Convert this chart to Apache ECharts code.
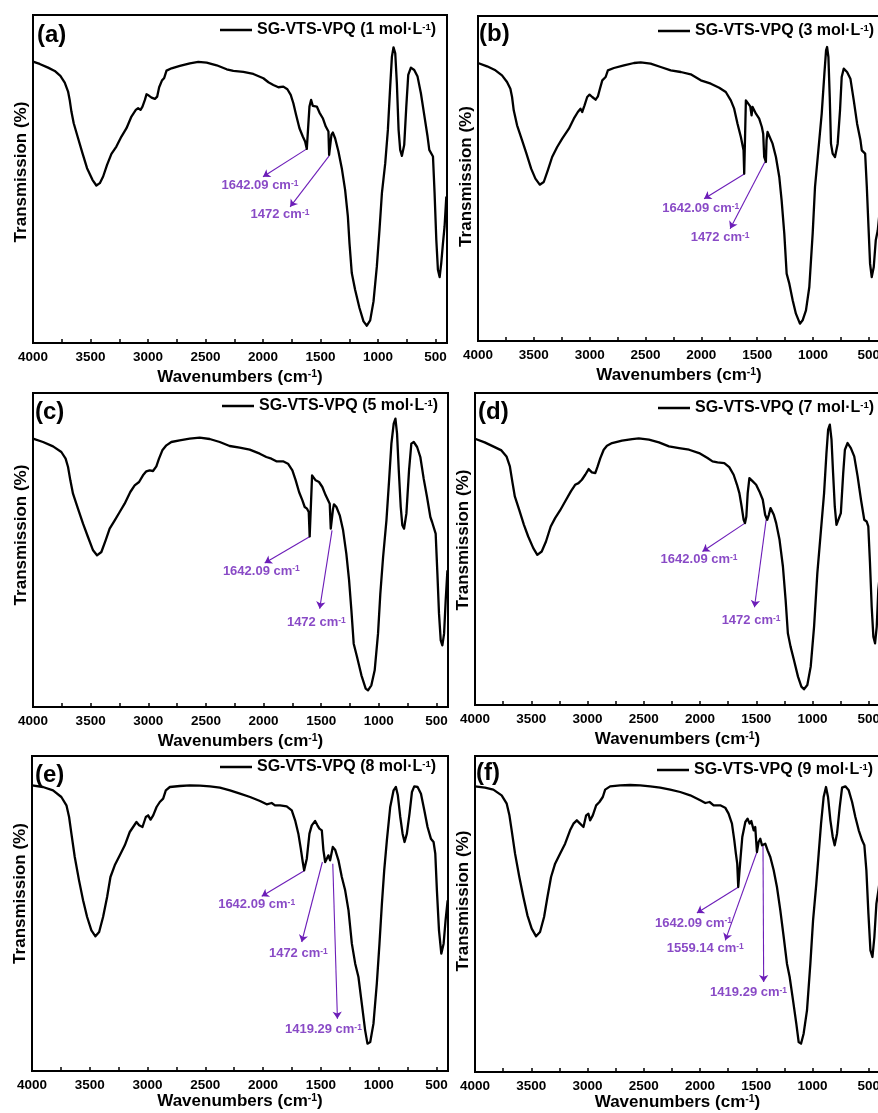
<!DOCTYPE html>
<html>
<head>
<meta charset="utf-8">
<title>FTIR spectra of SG-VTS-VPQ</title>
<script src="https://cdn.jsdelivr.net/npm/echarts@6/dist/echarts.min.js"></script>
<style>
  html, body { margin: 0; padding: 0; background: #fff; }
  #chart { width: 878px; height: 1113px; }
</style>
</head>
<body>
<div id="chart"></div>
<script>
// ---- data: wavenumber (cm-1) vs transmission, one array per concentration ----
const panelLetters = ['(a)', '(b)', '(c)', '(d)', '(e)', '(f)'];
const concentrations = [1, 3, 5, 7, 8, 9];
const majorTicks = [4000, 3500, 3000, 2500, 2000, 1500, 1000, 500];
const allTicks = [4000, 3750, 3500, 3250, 3000, 2750, 2500, 2250, 2000, 1750, 1500, 1250, 1000, 750, 500];
const wavenumberRange = [400, 4000];
const transmissionTop = [98.5, 97.5, 94.2, 93.5, 94.5, 94.8];

const spectrum1 = [[4000,84.5],[3942,83.8],[3869,82.7],[3811,81.7],[3762,80.2],[3724,78.2],[3695,75.5],[3681,73.0],[3666,69.5],[3646,66.0],[3608,61.5],[3570,57.0],[3530,52.5],[3483,49.0],[3449,47.3],[3419,48.0],[3390,50.0],[3356,53.5],[3318,56.8],[3275,59.0],[3231,62.0],[3187,64.5],[3144,68.0],[3106,70.0],[3086,70.5],[3065,70.0],[3048,71.0],[3027,73.0],[3013,74.7],[2993,74.3],[2969,73.7],[2940,73.3],[2920,74.0],[2903,76.8],[2879,78.8],[2859,79.6],[2839,81.8],[2795,82.5],[2723,83.2],[2636,84.0],[2563,84.4],[2490,84.2],[2403,83.4],[2316,82.2],[2258,81.7],[2171,81.4],[2084,80.8],[1997,79.5],[1953,78.3],[1910,77.5],[1866,76.8],[1823,77.0],[1788,76.2],[1759,74.5],[1736,72.0],[1712,68.5],[1683,64.5],[1654,62.0],[1634,60.5],[1619,58.3],[1608,58.5],[1596,71.0],[1582,73.0],[1567,71.2],[1550,71.5],[1532,71.0],[1509,69.2],[1480,67.5],[1454,65.0],[1431,63.5],[1425,56.5],[1413,56.5],[1405,62.5],[1393,63.2],[1373,61.5],[1344,57.5],[1315,52.5],[1286,46.0],[1262,38.0],[1248,30.0],[1228,21.0],[1199,16.0],[1161,10.5],[1126,6.5],[1097,5.2],[1068,6.8],[1039,12.5],[1010,23.0],[987,34.0],[966,45.0],[937,54.0],[914,64.0],[894,77.0],[879,86.0],[865,88.8],[850,87.0],[836,78.0],[821,64.0],[807,58.0],[792,56.2],[772,59.5],[754,71.0],[737,80.5],[714,82.7],[685,82.0],[656,80.0],[627,75.0],[598,68.5],[569,62.0],[554,58.0],[540,58.5],[522,56.0],[508,45.0],[493,31.0],[479,22.0],[464,19.8],[450,24.0],[435,30.0],[421,35.0],[406,44.0]];

const spectrum3 = [[4000,83.4],[3919,82.4],[3844,81.2],[3785,79.7],[3740,77.7],[3710,75.7],[3695,73.2],[3680,69.2],[3650,64.7],[3605,60.2],[3566,56.2],[3524,51.7],[3486,48.7],[3447,46.9],[3411,47.7],[3375,51.2],[3336,55.2],[3291,58.2],[3246,60.7],[3186,63.7],[3142,66.7],[3106,68.7],[3082,69.7],[3067,68.7],[3046,70.7],[3022,73.2],[3001,73.9],[2977,73.2],[2947,72.4],[2926,73.4],[2908,75.7],[2887,78.2],[2857,79.2],[2837,81.2],[2783,81.9],[2693,82.7],[2603,83.4],[2543,83.6],[2454,83.2],[2364,82.2],[2274,81.2],[2184,80.7],[2095,80.0],[2005,78.2],[1915,77.2],[1840,76.0],[1781,74.7],[1736,72.2],[1706,69.7],[1676,65.2],[1646,61.2],[1631,60.7],[1622,57.2],[1616,50.2],[1607,50.2],[1601,72.2],[1586,72.2],[1562,70.4],[1550,67.7],[1541,70.2],[1511,68.2],[1482,66.7],[1458,64.2],[1446,62.2],[1437,55.2],[1422,53.7],[1416,60.2],[1407,62.7],[1392,62.2],[1362,59.2],[1332,55.2],[1302,49.2],[1281,42.2],[1257,32.2],[1236,20.2],[1212,17.2],[1182,12.2],[1153,8.2],[1117,5.2],[1093,6.2],[1063,9.2],[1033,16.2],[1003,32.2],[982,46.2],[952,57.2],[922,68.2],[898,80.2],[883,87.2],[874,88.2],[862,85.2],[850,73.2],[839,59.2],[824,56.2],[803,55.2],[779,59.2],[758,69.2],[743,79.2],[725,81.7],[695,80.7],[665,78.7],[635,72.2],[605,65.2],[575,60.2],[563,57.2],[548,57.7],[533,56.2],[518,46.2],[503,34.2],[489,23.2],[474,19.2],[456,22.2],[438,30.2],[420,33.2],[408,37.2],[400,40.0]];

const spectrum5 = [[4000,80.5],[3913,79.5],[3826,78.2],[3754,76.5],[3717,74.5],[3696,72.0],[3676,68.0],[3653,64.0],[3610,59.5],[3566,55.0],[3523,51.0],[3479,47.0],[3445,45.5],[3407,46.5],[3370,50.0],[3335,53.5],[3291,56.0],[3248,58.5],[3205,61.0],[3156,64.5],[3118,66.5],[3080,67.5],[3046,69.5],[3017,70.7],[2988,71.0],[2959,70.8],[2930,72.2],[2907,74.5],[2878,77.0],[2843,78.5],[2800,79.5],[2728,80.0],[2641,80.5],[2554,80.8],[2467,80.4],[2380,79.5],[2294,78.3],[2207,77.8],[2120,77.2],[2033,76.0],[1976,75.0],[1932,74.5],[1889,73.7],[1831,73.7],[1788,73.0],[1750,71.0],[1721,68.0],[1692,64.5],[1663,62.0],[1643,60.0],[1623,59.5],[1608,58.5],[1600,51.2],[1588,51.2],[1579,69.5],[1565,69.5],[1548,68.0],[1533,68.5],[1519,67.5],[1490,66.0],[1461,63.5],[1426,61.0],[1417,53.5],[1403,53.0],[1397,59.5],[1389,60.8],[1368,60.0],[1339,57.5],[1310,53.0],[1282,46.0],[1258,38.0],[1238,29.0],[1218,19.0],[1189,15.0],[1151,9.5],[1114,5.5],[1094,5.0],[1065,6.5],[1036,11.0],[1007,22.0],[987,34.0],[963,45.0],[934,56.0],[911,68.0],[891,79.0],[871,85.0],[856,86.5],[842,82.0],[827,71.0],[810,60.0],[796,54.5],[781,53.5],[761,58.0],[738,71.0],[718,79.0],[697,79.5],[668,78.0],[640,75.0],[611,68.5],[582,63.0],[553,57.0],[538,55.5],[521,55.5],[507,52.0],[492,40.0],[478,28.0],[463,20.0],[449,18.5],[434,22.0],[420,32.0],[405,41.0]];

const spectrum7 = [[4000,79.8],[3914,78.7],[3839,77.5],[3765,76.3],[3720,74.5],[3690,71.5],[3666,66.5],[3646,62.5],[3607,58.5],[3565,54.0],[3527,50.5],[3482,47.0],[3446,45.0],[3407,46.0],[3369,49.0],[3327,53.5],[3288,56.0],[3244,58.3],[3199,61.0],[3148,64.0],[3110,66.0],[3080,66.5],[3050,67.5],[3020,69.0],[2990,70.7],[2961,69.7],[2931,69.5],[2910,71.5],[2886,74.0],[2856,76.5],[2827,77.7],[2782,78.5],[2693,79.2],[2603,79.7],[2544,79.9],[2454,79.5],[2365,78.7],[2276,77.5],[2186,77.0],[2097,76.5],[2008,75.5],[1933,74.0],[1889,73.0],[1844,72.7],[1784,72.5],[1740,71.3],[1701,69.0],[1671,66.0],[1650,63.5],[1630,59.5],[1612,55.5],[1600,54.5],[1588,56.5],[1576,63.5],[1561,68.0],[1546,68.5],[1531,67.0],[1501,66.0],[1472,64.0],[1442,61.5],[1421,57.0],[1403,55.5],[1388,57.0],[1373,59.0],[1359,59.0],[1344,57.0],[1323,54.5],[1293,49.5],[1263,41.5],[1239,31.5],[1219,21.5],[1195,17.5],[1165,13.5],[1129,8.5],[1099,5.5],[1076,4.7],[1046,6.0],[1016,11.5],[986,23.5],[957,39.5],[927,51.5],[897,63.5],[876,75.5],[861,82.5],[846,84.0],[831,79.5],[817,69.5],[802,59.5],[787,54.0],[772,53.5],[748,57.5],[727,69.5],[712,76.5],[688,78.5],[659,77.0],[629,74.5],[599,68.5],[569,61.5],[540,55.5],[519,55.0],[504,53.5],[489,42.5],[474,29.5],[459,20.5],[444,18.5],[429,23.5],[415,34.5],[403,38.5],[400,40.0]];

const spectrum8 = [[4000,85.7],[3905,85.2],[3818,84.2],[3746,82.2],[3702,79.7],[3679,76.2],[3659,71.2],[3630,64.2],[3593,57.2],[3558,51.2],[3523,46.2],[3486,42.2],[3451,40.4],[3419,41.7],[3385,46.2],[3350,52.2],[3321,58.2],[3284,61.7],[3240,64.7],[3197,67.7],[3154,71.7],[3125,73.2],[3096,74.7],[3073,73.7],[3044,73.2],[3015,76.2],[2995,76.7],[2974,75.4],[2951,76.7],[2922,79.2],[2894,80.7],[2865,81.7],[2842,84.2],[2807,85.2],[2720,85.5],[2634,85.7],[2547,85.6],[2460,85.4],[2374,85.0],[2287,84.2],[2200,83.2],[2113,82.2],[2027,81.0],[1969,80.0],[1926,80.4],[1897,79.7],[1853,79.7],[1796,79.4],[1752,78.2],[1723,75.2],[1695,71.2],[1674,66.7],[1657,62.7],[1645,60.2],[1634,60.2],[1622,63.7],[1599,71.2],[1579,73.7],[1550,75.0],[1530,73.7],[1513,72.7],[1492,72.2],[1478,66.2],[1463,62.7],[1449,63.7],[1435,64.7],[1420,63.2],[1397,67.2],[1377,66.4],[1348,63.2],[1319,58.2],[1290,54.2],[1261,48.2],[1232,38.2],[1203,32.2],[1175,28.2],[1146,20.2],[1117,12.2],[1097,8.2],[1073,8.7],[1045,14.2],[1016,26.2],[993,38.2],[972,50.2],[952,60.2],[929,69.2],[900,79.2],[871,84.2],[851,85.2],[834,82.7],[813,76.2],[793,71.2],[776,68.7],[756,71.2],[733,77.2],[712,83.7],[692,85.4],[663,85.2],[634,83.2],[605,78.2],[577,73.2],[548,69.7],[525,68.7],[510,65.2],[496,54.2],[478,42.2],[458,35.2],[438,38.2],[421,45.2],[403,51.2]];

const spectrum9 = [[4000,85.7],[3911,85.3],[3837,84.7],[3763,83.0],[3718,80.5],[3694,77.0],[3674,72.5],[3644,65.5],[3606,58.5],[3570,52.5],[3534,47.0],[3496,43.0],[3457,40.7],[3422,42.0],[3386,46.5],[3356,52.5],[3324,58.5],[3288,62.5],[3244,65.5],[3199,68.5],[3155,72.5],[3125,74.5],[3095,75.5],[3066,74.5],[3036,73.5],[3012,77.0],[2992,77.5],[2977,75.5],[2953,77.0],[2923,80.0],[2894,81.0],[2864,82.5],[2843,84.7],[2799,85.7],[2710,86.0],[2621,86.1],[2532,86.0],[2443,85.7],[2354,85.3],[2265,84.7],[2176,84.0],[2087,83.0],[1998,81.5],[1953,80.7],[1915,81.0],[1879,80.0],[1820,80.0],[1776,79.3],[1746,77.5],[1716,74.5],[1695,69.5],[1681,65.5],[1669,62.5],[1660,55.5],[1648,55.5],[1639,64.5],[1624,70.5],[1597,75.0],[1577,76.0],[1559,74.5],[1544,75.3],[1523,72.5],[1509,73.5],[1494,66.0],[1479,69.0],[1464,70.0],[1449,68.0],[1434,68.0],[1420,68.5],[1399,66.5],[1375,64.5],[1345,60.5],[1316,55.5],[1286,48.5],[1256,40.5],[1227,32.5],[1203,28.5],[1173,21.5],[1144,14.5],[1123,9.0],[1102,8.5],[1079,11.5],[1049,18.5],[1019,32.5],[995,45.5],[966,56.5],[945,65.5],[924,74.5],[901,82.5],[880,85.5],[862,82.5],[841,75.5],[820,70.5],[803,68.0],[782,71.5],[758,79.5],[737,85.3],[708,85.7],[678,84.5],[648,81.0],[619,76.5],[589,72.5],[559,69.5],[539,68.0],[521,60.5],[503,47.5],[485,36.5],[467,34.5],[450,40.5],[432,50.5],[414,54.5],[400,58.0]];

const spectra = [spectrum1, spectrum3, spectrum5, spectrum7, spectrum8, spectrum9];

// assigned bands (cm-1) marked in each spectrum
const bandLabels = [
  ['1642.09', '1472'],
  ['1642.09', '1472'],
  ['1642.09', '1472'],
  ['1642.09', '1472'],
  ['1642.09', '1472', '1419.29'],
  ['1642.09', '1559.14', '1419.29']
];

// ---- layout ----
const FONT = '"Liberation Sans", Arial, Helvetica, sans-serif';
const PURPLE = '#6C1DB8';

const gridBoxes = [
  { left: 33,  top: 15,  width: 414, height: 328 },
  { left: 478, top: 16,  width: 402, height: 325 },
  { left: 33,  top: 393, width: 415, height: 314 },
  { left: 475, top: 393, width: 405, height: 312 },
  { left: 32,  top: 756, width: 416, height: 315 },
  { left: 475, top: 756, width: 405, height: 316 }
];
const letterPos = [[37, 35], [479, 34], [35, 412], [478, 412], [35, 775], [476, 773]];
const legendPos = [[220, 22], [658, 23], [222, 398], [658, 400], [220, 759], [657, 762]];
const yNameShift = [7, 2, 15, 9, 20, 13];

// arrow tail (on the band), arrow head, label centre, in axis units
const bandArrowLayout = [
  [[[1619, 58.3], [2000, 49.9], [2026, 47.2]], [[1425, 56.2], [1764, 40.9], [1852, 38.5]]],
  [[[1612, 50.2], [1975, 42.7], [2005, 39.7]], [[1431, 53.7], [1742, 33.7], [1832, 31.0]]],
  [[[1594, 51.2], [1990, 43.2], [2019, 40.8]], [[1406, 53.0], [1513, 29.5], [1542, 25.3]]],
  [[[1600, 54.5], [1978, 46.0], [2008, 43.5]], [[1412, 55.5], [1516, 29.3], [1546, 25.3]]],
  [[[1637, 60.2], [2012, 52.4], [2056, 50.0]], [[1487, 62.7], [1666, 38.7], [1695, 35.2]], [[1397, 62.2], [1357, 15.7], [1478, 12.5]]],
  [[[1657, 55.5], [2028, 47.7], [2057, 44.7]], [[1494, 66.0], [1775, 39.5], [1953, 37.0]], [[1440, 68.0], [1434, 27.0], [1568, 23.8]]]
];

const seriesName = c => 'SG-VTS-VPQ (' + c + ' mol·L-1)';

const bold = (size, color) => ({ fontFamily: FONT, fontSize: size, fontWeight: 'bold', color: color || '#000' });

const chart = echarts.init(document.getElementById('chart'), null, { renderer: 'canvas' });

const grid = gridBoxes.map(b => Object.assign({}, b, {
  show: true, borderColor: '#000', borderWidth: 2, backgroundColor: 'transparent',
  containLabel: false, outerBoundsMode: 'none'
}));

const xAxis = gridBoxes.map((b, i) => ({
  type: 'value',
  gridIndex: i,
  inverse: true,
  min: wavenumberRange[0],
  max: wavenumberRange[1],
  name: '{n|Wavenumbers (cm}{s|-1}{n|)}',
  nameLocation: 'middle',
  nameGap: i >= 4 ? 22 : 26,
  nameTextStyle: { rich: { n: bold(17), s: Object.assign(bold(10.5), { verticalAlign: 'top' }) } },
  axisLine: { show: true, onZero: false, lineStyle: { color: '#000', width: 2 } },
  axisTick: { show: true, inside: true, length: 4, customValues: allTicks, lineStyle: { color: '#000', width: 1.5 } },
  axisLabel: Object.assign(bold(13.5), { customValues: majorTicks, margin: 7, formatter: v => String(v) }),
  splitLine: { show: false }
}));

const yAxis = gridBoxes.map((b, i) => ({
  type: 'value',
  gridIndex: i,
  min: 0,
  max: transmissionTop[i],
  name: 'Transmission (%)',
  nameLocation: 'middle',
  nameGap: 3,
  nameTextStyle: Object.assign(bold(17), { padding: [0, 0, 0, 2 * yNameShift[i]] }),
  axisLine: { show: true, onZero: false, lineStyle: { color: '#000', width: 2 } },
  axisTick: { show: false },
  axisLabel: { show: false },
  splitLine: { show: false }
}));

const legend = concentrations.map((c, i) => ({
  data: [seriesName(c)],
  left: legendPos[i][0],
  top: legendPos[i][1],
  padding: 0,
  icon: 'rect',
  itemWidth: 32,
  itemHeight: 2.5,
  selectedMode: false,
  formatter: () => '{t|SG-VTS-VPQ (' + c + ' mol·L}{s|-1}{t|)}',
  textStyle: { rich: { t: bold(16), s: Object.assign(bold(9.5), { verticalAlign: 'top' }) } }
}));

const bandRich = {
  v: bold(13, PURPLE),
  s: Object.assign(bold(8.5, PURPLE), { verticalAlign: 'top' })
};

const series = [];
concentrations.forEach((c, i) => {
  series.push({
    type: 'line',
    name: seriesName(c),
    xAxisIndex: i,
    yAxisIndex: i,
    data: spectra[i],
    symbol: 'none',
    showSymbol: false,
    lineStyle: { color: '#000', width: 2.3, join: 'round' },
    itemStyle: { color: '#000' },
    silent: true
  });
  series.push({
    type: 'lines',
    coordinateSystem: 'cartesian2d',
    xAxisIndex: i,
    yAxisIndex: i,
    symbol: ['none', 'arrow'],
    symbolSize: 7,
    lineStyle: { color: PURPLE, width: 1.1, opacity: 1, curveness: 0 },
    data: bandArrowLayout[i].map(a => ({ coords: [a[0], a[1]] })),
    silent: true
  });
  series.push({
    type: 'scatter',
    xAxisIndex: i,
    yAxisIndex: i,
    symbolSize: 1,
    itemStyle: { color: 'rgba(0,0,0,0)' },
    data: bandArrowLayout[i].map((a, k) => ({ name: bandLabels[i][k], value: a[2] })),
    label: {
      show: true,
      position: 'inside',
      formatter: p => '{v|' + p.name + ' cm}{s|-1}',
      rich: bandRich
    },
    silent: true
  });
});

const graphic = panelLetters.map((t, i) => ({
  type: 'text',
  x: letterPos[i][0],
  y: letterPos[i][1],
  z: 10,
  style: { text: t, fontFamily: FONT, fontSize: 24, fontWeight: 'bold', fill: '#000', align: 'left', verticalAlign: 'middle' }
}));

chart.setOption({
  animation: false,
  backgroundColor: '#fff',
  grid, xAxis, yAxis, legend, series, graphic
});
</script>
</body>
</html>
